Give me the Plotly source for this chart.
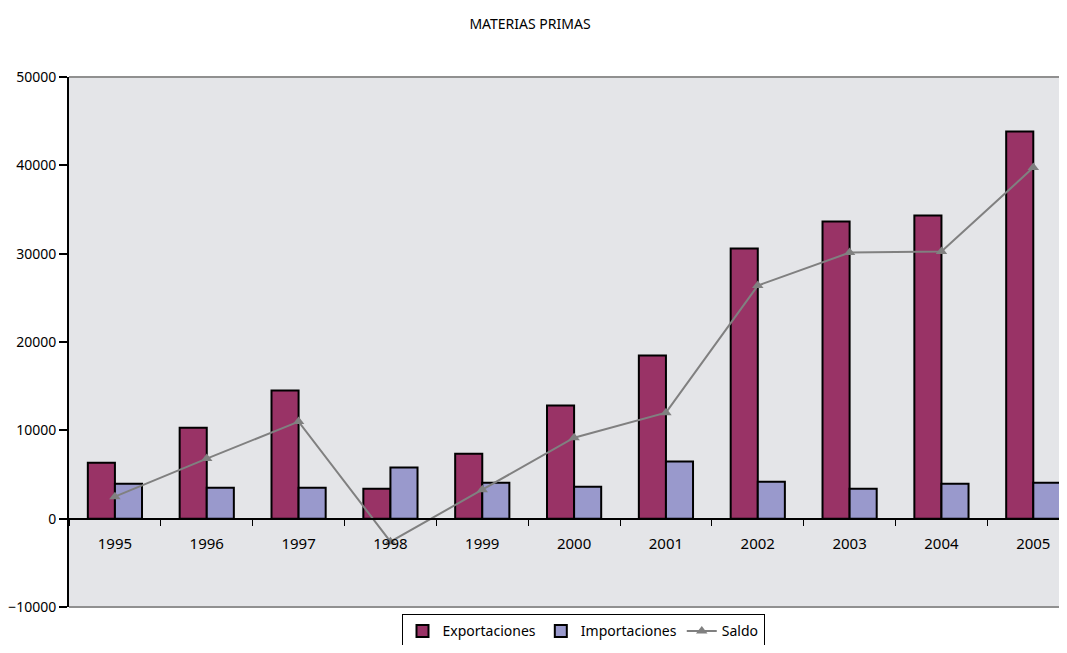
import plotly.graph_objects as go

years = ["1995", "1996", "1997", "1998", "1999", "2000", "2001", "2002", "2003", "2004", "2005"]
exportaciones = [6340, 10300, 14500, 3400, 7360, 12800, 18460, 30580, 33630, 34310, 43830]
importaciones = [3960, 3510, 3510, 5780, 4080, 3620, 6460, 4190, 3400, 3960, 4080]
saldo = [2490, 6800, 10990, -2600, 3280, 9170, 12000, 26390, 30120, 30240, 39750]

font_family = "Noto Sans, Open Sans, sans-serif"

fig = go.Figure()
fig.add_trace(go.Bar(
    x=years, y=exportaciones, name="Exportaciones",
    marker=dict(color="#993366", line=dict(color="black", width=2)),
))
fig.add_trace(go.Bar(
    x=years, y=importaciones, name="Importaciones",
    marker=dict(color="#9999CC", line=dict(color="black", width=2)),
))
fig.add_trace(go.Scatter(
    x=years, y=saldo, name="Saldo", mode="lines+markers",
    line=dict(color="#808080", width=2),
    marker=dict(symbol="triangle-up", size=10, color="#808080"),
))

fig.update_layout(
    width=1051, height=637,
    paper_bgcolor="white",
    plot_bgcolor="#E4E5E8",
    barmode="group",
    bargap=0.41,
    bargroupgap=0,
    margin=dict(l=61, r=0, t=69, b=38, autoexpand=False),
    font=dict(family=font_family, size=14, color="black"),
    title=dict(text="MATERIAS PRIMAS", x=522 / 1051, xanchor="center", y=1 - 16 / 637, yanchor="middle",
               font=dict(family=font_family, size=14, color="black")),
    showlegend=True,
    legend=dict(orientation="h", x=(575 - 61) / 990, xanchor="center", y=-0.014, yanchor="top",
                bordercolor="black", borderwidth=1, bgcolor="white",
                font=dict(family=font_family, size=14, color="black"),
                itemwidth=30, tracegroupgap=0),
    xaxis=dict(
        type="category", range=[-0.5, 10.28],
        anchor="free", position=1/6, automargin=False,
        showline=True, linecolor="black", linewidth=1.5,
        ticks="outside", tickson="boundaries", ticklen=7, tickcolor="black", tickwidth=1,
        showgrid=False, zeroline=False,
        ticklabelstandoff=12,
        tickfont=dict(family=font_family, size=15, color="black"),
    ),
    yaxis=dict(
        range=[-10000, 50000], dtick=10000, tickformat="d", automargin=False,
        showline=True, linecolor="black", linewidth=2,
        ticks="outside", ticklen=8, tickcolor="black", tickwidth=2,
        showgrid=False, zeroline=False,
        tickfont=dict(family=font_family, size=14, color="black"),
    ),
    shapes=[
        dict(type="line", xref="paper", yref="paper", x0=0, x1=1, y0=1, y1=1,
             line=dict(color="#909090", width=2), layer="below"),
        dict(type="line", xref="paper", yref="paper", x0=0, x1=1, y0=0, y1=0,
             line=dict(color="#909090", width=2), layer="below"),
    ],
)

fig.write_html("out.html")
